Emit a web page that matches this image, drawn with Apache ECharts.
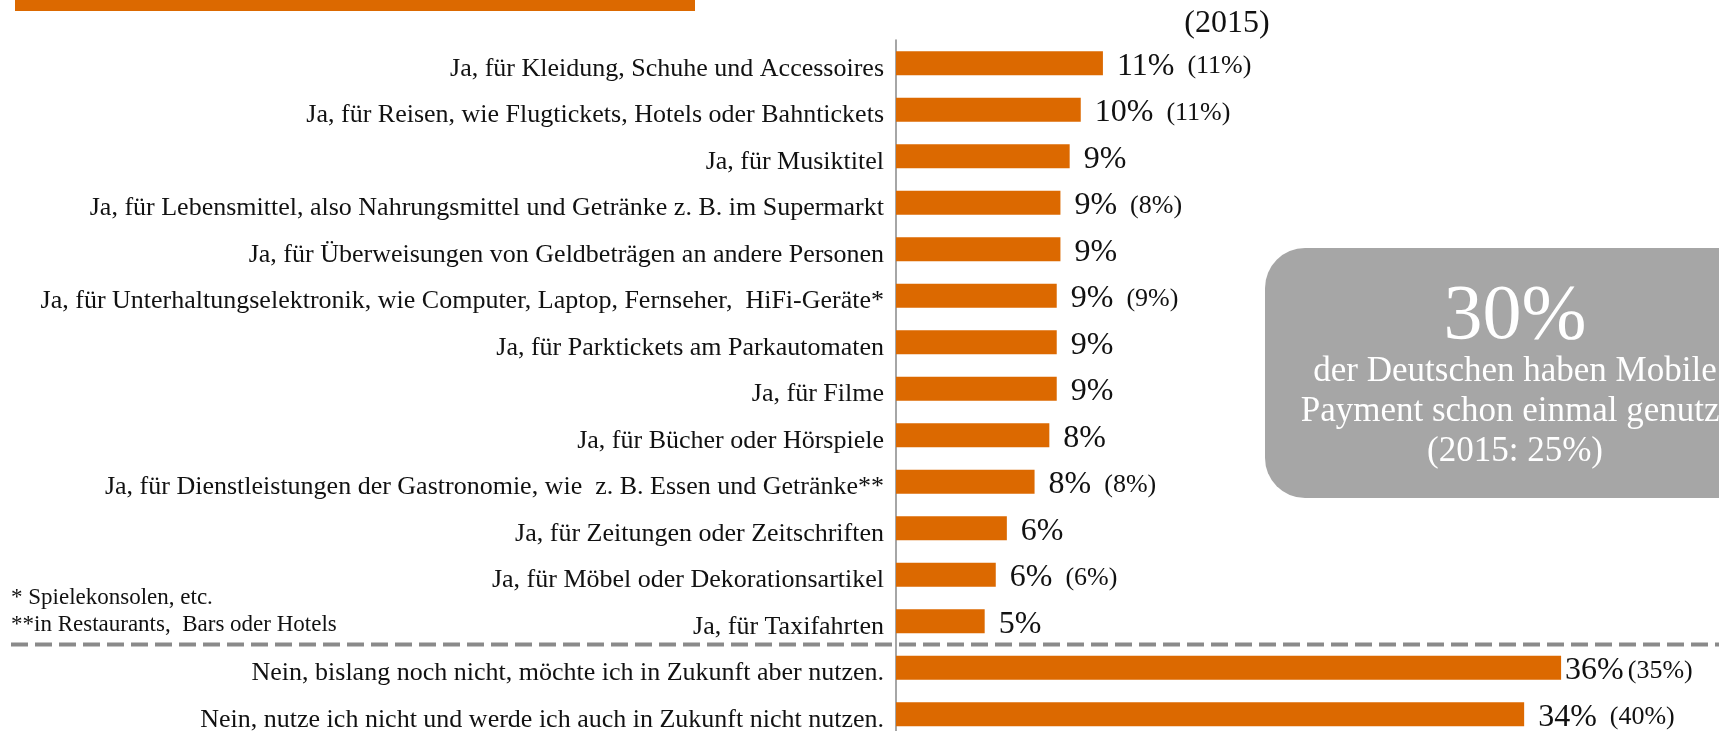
<!DOCTYPE html>
<html>
<head>
<meta charset="utf-8">
<script src="https://cdn.jsdelivr.net/npm/echarts@6/dist/echarts.min.js"></script>
<style>
html,body{margin:0;padding:0;background:#fff;overflow:hidden;}
#chart{width:1719px;height:731px;}
</style>
</head>
<body>
<div id="chart"></div>
<script>
// data
var categories = [
    'Ja, für Kleidung, Schuhe und Accessoires',
    'Ja, für Reisen, wie Flugtickets, Hotels oder Bahntickets',
    'Ja, für Musiktitel',
    'Ja, für Lebensmittel, also Nahrungsmittel und Getränke z. B. im Supermarkt',
    'Ja, für Überweisungen von Geldbeträgen an andere Personen',
    'Ja, für Unterhaltungselektronik, wie Computer, Laptop, Fernseher,  HiFi-Geräte*',
    'Ja, für Parktickets am Parkautomaten',
    'Ja, für Filme',
    'Ja, für Bücher oder Hörspiele',
    'Ja, für Dienstleistungen der Gastronomie, wie  z. B. Essen und Getränke**',
    'Ja, für Zeitungen oder Zeitschriften',
    'Ja, für Möbel oder Dekorationsartikel',
    'Ja, für Taxifahrten',
    'Nein, bislang noch nicht, möchte ich in Zukunft aber nutzen.',
    'Nein, nutze ich nicht und werde ich auch in Zukunft nicht nutzen.'
];
var values = [11.2, 10.0, 9.4, 8.9, 8.9, 8.7, 8.7, 8.7, 8.3, 7.5, 6.0, 5.4, 4.8, 36.0, 34.0];
var shownPct = [11, 10, 9, 9, 9, 9, 9, 9, 8, 8, 6, 6, 5, 36, 34];
var pct2015 = [11, 11, null, 8, null, 9, null, null, null, 8, null, 6, null, 35, 40];
var yearLabel = '(2015)';
var boxBig = '30%';
var boxLines = ['der Deutschen haben Mobile', 'Payment schon einmal genutzt', '(2015: 25%)'];
var footnotes = ['* Spielekonsolen, etc.', '**in Restaurants,  Bars oder Hotels'];

var orange = '#dc6900',
    serif = 'Liberation Serif',
    chart = echarts.init(document.getElementById('chart'));

var barData = values.map(function(v, i){
    return {
        value: v,
        label: { distance: i === 13 ? 4 : 14 }
    };
});

function labelText(p){
    var i = p.dataIndex,
        s = '{a|' + shownPct[i] + '%}';
    if(pct2015[i] != null){
        s += (i === 13 ? '{c|' : '{b|') + '(' + pct2015[i] + '%)}';
    }
    return s;
}

var graphics = [
    { type: 'rect', shape: { x: 15, y: 0, width: 680, height: 11 }, style: { fill: orange } },
    { type: 'text', x: 1227, y: 24, style: { text: yearLabel, font: '32px "' + serif + '"', fill: '#111', align: 'center', verticalAlign: 'middle' } },
    { type: 'rect', shape: { x: 1265, y: 248, width: 500, height: 250, r: 40 }, style: { fill: '#a6a6a6' } },
    { type: 'text', x: 1515, y: 318, style: { text: boxBig, font: '78px "' + serif + '"', fill: '#fff', align: 'center', verticalAlign: 'middle' } }
];
boxLines.forEach(function(t, k){
    graphics.push({ type: 'text', x: 1515, y: 372 + k * 40, style: { text: t, font: '35px "' + serif + '"', fill: '#fff', align: 'center', verticalAlign: 'middle' } });
});
footnotes.forEach(function(t, k){
    graphics.push({ type: 'text', x: 11, y: 598 + k * 27, style: { text: t, font: '23px "' + serif + '"', fill: '#111', verticalAlign: 'middle' } });
});

chart.setOption({
    animation: false,
    grid: { left: 896, top: 40, width: 739, height: 697.5, outerBoundsMode: 'none' },
    xAxis: { type: 'value', min: 0, max: 40, show: false },
    yAxis: {
        type: 'category',
        inverse: true,
        data: categories,
        axisTick: { show: false },
        axisLine: { lineStyle: { color: '#888', width: 1.5 } },
        // text sits a little low, baseline on the bar's bottom edge
        axisLabel: { margin: 12, color: '#111', fontFamily: serif, fontSize: 26, verticalAlign: 'top', lineHeight: 11 }
    },
    series: [{
        type: 'bar',
        data: barData,
        barWidth: 24,
        itemStyle: { color: orange },
        label: {
            show: true,
            position: 'right',
            offset: [0, 3],
            formatter: labelText,
            rich: {
                a: { fontFamily: serif, fontSize: 32, color: '#111' },
                b: { fontFamily: serif, fontSize: 26, color: '#111', padding: [0, 0, 0, 13] },
                c: { fontFamily: serif, fontSize: 26, color: '#111', padding: [0, 0, 0, 4] }
            }
        }
    }],
    graphic: graphics
});

// dashed separator between the "Ja" and "Nein" answers
var y1 = chart.convertToPixel({ yAxisIndex: 0 }, 12),
    y2 = chart.convertToPixel({ yAxisIndex: 0 }, 13),
    sepY = (y1 + y2) / 2;
graphics.push({
    type: 'line',
    shape: { x1: 11, y1: sepY, x2: 1719, y2: sepY },
    style: { stroke: '#8a8a8a', lineWidth: 4, lineDash: [17, 7] }
});
chart.setOption({ graphic: graphics });
</script>
</body>
</html>
